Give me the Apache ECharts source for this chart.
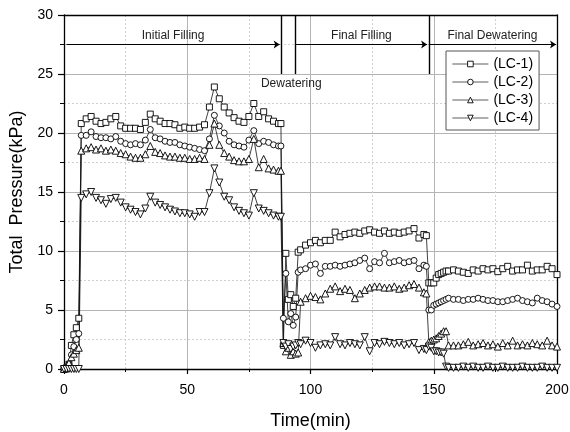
<!DOCTYPE html>
<html lang="en">
<head>
    <meta charset="UTF-8">
    <title>total pressure</title>
    <style>
        html,
        body {
            margin: 0;
            padding: 0;
            background: #fff;
        }

        #canvas {
            width: 570px;
            height: 432px;
        }
    </style>
</head>
<body>
<div id="canvas"></div>
<script src="https://cdn.jsdelivr.net/npm/echarts@6.0.0/dist/echarts.min.js"></script>
<script>

    // time (min), shared by all four load cells
    const time = [0, 1, 2, 3, 4, 5, 6, 7,
        9, 11, 13, 15, 17, 19, 21, 23, 25, 27, 29, 31, 33, 35, 37, 39, 41, 43, 45, 47,
        49, 51, 53, 55, 57, 59, 61, 63, 65, 67, 69, 71, 73, 75, 77, 79, 81, 83, 85, 87,
        88, 89, 90, 91, 92, 93, 94, 95, 96,
        98, 100, 102, 104, 106, 108, 110, 112, 114, 116, 118, 120, 122, 124, 126, 128,
        130, 132, 134, 136, 138, 140, 142, 144, 146,
        147, 148, 149, 150, 151, 152, 153, 154, 155, 156,
        158, 160, 162, 164, 166, 168, 170, 172, 174, 176, 178, 180, 182, 184, 186, 188,
        190, 192, 194, 196, 198, 200]

    const lc1 = [0, 0.1, 0.4, 2.0, 2.9, 3.5, 4.3, 20.8,
        21.2, 21.4, 21.0, 20.8, 20.9, 21.2, 21.4, 20.6, 20.4, 20.4,
        20.4, 20.3, 20.9, 21.6, 21.2, 21.0, 20.8, 20.8, 20.7, 20.4,
        20.5, 20.4, 20.4, 20.5, 20.7, 22.2, 23.9, 22.9, 22.2, 21.7,
        21.3, 21.0, 20.9, 21.4, 22.5, 21.4, 21.8, 21.2, 21.0, 20.8,
        20.8, 2.0, 9.8, 5.9, 6.3, 5.3, 6.0, 9.9, 10.1,
        10.5, 10.7, 10.9, 10.7, 10.9, 10.9, 11.6, 11.2, 11.4, 11.5, 11.6, 11.5, 11.7,
        11.8, 11.6, 11.5, 11.7, 11.5, 11.6, 11.5, 11.6, 11.7, 11.9, 11.1, 11.4,
        11.3, 7.3, 7.3, 7.3, 7.7, 8.0, 8.1, 8.2, 8.3, 8.3,
        8.4, 8.3, 8.2, 8.1, 8.4, 8.3, 8.5, 8.4, 8.5, 8.25, 8.5, 8.7, 8.3, 8.4, 8.4,
        8.8, 8.3, 8.4, 8.4, 8.7, 8.5, 8.0]

    const lc2 = [0, 0.1, 0.4, 1.2, 1.9, 2.5, 3.0, 19.8,
        19.8, 20.1, 19.7, 19.6, 19.6, 19.5, 19.7, 19.3, 19.1, 19.0,
        19.1, 19.0, 19.4, 20.3, 19.6, 19.5, 19.3, 19.2, 19.2, 19.0,
        18.9, 18.8, 18.7, 18.6, 18.5, 19.5, 21.5, 20.6, 20.0, 19.3,
        19.0, 18.9, 18.8, 19.4, 20.2, 19.1, 19.3, 19.2, 19.0, 18.9,
        18.9, 4.3, 8.1, 4.0, 4.7, 3.7, 4.4, 8.2, 8.4,
        8.5, 8.8, 8.9, 8.1, 8.7, 8.7, 8.8, 8.7, 8.8, 8.9, 9.0, 9.2, 9.4,
        8.5, 9.1, 9.0, 9.8, 9.0, 9.1, 9.2, 9.0, 9.1, 9.2, 8.5, 8.8,
        8.7, 5.0, 5.0, 5.4, 5.5, 5.6, 5.7, 5.8, 5.9, 6.0,
        5.9, 5.9, 5.8, 5.9, 5.9, 6.0, 5.9, 5.8, 5.8, 5.7, 5.7, 5.8, 5.9, 6.0, 5.8,
        5.7, 5.6, 6.0, 5.8, 5.7, 5.5, 5.3]

    const lc3 = [0, 0.1, 0.5, 1.0, 1.3, 1.6, 1.8, 18.5,
        18.7, 18.8, 18.6, 18.7, 18.5, 18.6, 18.5, 18.3, 18.2, 18.0,
        17.9, 17.9, 18.2, 18.9, 18.4, 18.3, 18.1, 18.0, 18.0, 17.9,
        17.9, 17.8, 17.8, 17.9, 17.8, 19.0, 20.8, 19.0, 18.3, 18.0,
        17.7, 17.6, 17.6, 17.8, 19.5, 17.1, 17.8, 17.0, 16.9, 16.8,
        16.8, 2.2, 1.5, 1.8, 1.2, 1.5, 1.3, 1.4, 5.7,
        6.0, 6.2, 6.1, 5.9, 6.4, 6.8, 7.0, 6.6, 6.8, 6.7, 6.0, 6.4, 6.7,
        6.9, 7.0, 7.0, 6.9, 6.9, 7.0, 6.8, 6.9, 7.1, 7.2, 6.9, 6.5,
        6.4, 2.3, 2.4, 2.5, 2.6, 2.8, 3.0, 3.2, 3.2, 2.0,
        2.0, 2.0, 2.1, 2.3, 2.0, 2.1, 2.2, 2.0, 2.1, 1.9, 2.2, 2.0, 2.4, 2.0, 2.1,
        2.0, 2.2, 2.1, 2.0, 2.4, 2.0, 1.9]

    const lc4 = [0, 0, 0, 0, 0, 0, 0, 14.5,
        14.8, 15.0, 14.5, 14.3, 14.0, 14.4, 14.5, 14.1, 13.7, 13.5,
        13.3, 13.1, 13.6, 14.6, 14.1, 13.9, 13.7, 13.5, 13.35, 13.2,
        13.2, 13.1, 12.9, 13.3, 13.3, 14.9, 17.0, 15.8, 14.6, 14.3,
        13.7, 13.4, 13.2, 13.0, 14.9, 13.6, 13.4, 13.2, 13.0, 12.9,
        12.9, 2.2, 1.9, 2.1, 1.7, 1.9, 2.0, 2.2, 2.1,
        2.4, 2.2, 1.8, 2.0, 2.1, 2.0, 2.7, 2.1, 2.0, 2.2, 2.1, 2.0, 2.7,
        1.5, 2.2, 2.1, 2.3, 2.2, 2.1, 2.2, 2.0, 2.1, 2.2, 1.6, 1.7,
        1.6, 1.9, 1.8, 1.5, 1.5, 1.4, 1.4, 1.3, 0.2, 0.1,
        0.1, 0.1, 0.2, 0.1, 0.2, 0.1, 0.1, 0.2, 0.1, 0.1, 0.2, 0.1, 0.1, 0.1, 0.2,
        0.1, 0.1, 0.1, 0.2, 0.1, 0.1, 0.1]

    const names = ['(LC-1)', '(LC-2)', '(LC-3)', '(LC-4)']
    const xTicks = [0, 50, 100, 150, 200]
    const yTicks = [0, 5, 10, 15, 20, 25, 30]

    // stage boundaries and labels (time, min)
    const stageLines = [88, 94, 148]
    const stages = [
        {text: 'Initial Filling', from: 1, to: 87.5},
        {text: 'Final Filling', from: 94, to: 147.3},
        {text: 'Final Dewatering', from: 148, to: 199.6}
    ]
    const dewatering = {text: 'Dewatering', at: [92.2, 24.2]}

    const font = 'Arial, "Liberation Sans", sans-serif'

    function pairs(values) {
        return time.map((t, i) => [t, values[i]])
    }

    function lcSeries(name, values, symbol, size, rotate) {
        return {
            name: name,
            type: 'line',
            data: pairs(values),
            symbol: symbol,
            symbolSize: size,
            symbolRotate: rotate || 0,
            showAllSymbol: true,
            lineStyle: {color: '#111', width: 0.8},
            itemStyle: {color: '#fff', borderColor: '#000', borderWidth: 0.9},
            emphasis: {disabled: true}
        }
    }

    const annotation = {
        name: 'stages',
        type: 'line',
        data: [],
        silent: true,
        markLine: {
            silent: true,
            animation: false,
            data: [
                ...stageLines.map(x => [
                    {coord: [x, 25], symbol: 'none', lineStyle: {width: 1.4}, label: {show: false}},
                    {coord: [x, 30], symbol: 'none'}
                ]),
                ...stages.map(s => [
                    {
                        coord: [s.from, 27.5], symbol: 'none',
                        lineStyle: {width: 1},
                        label: {
                            show: true, formatter: s.text, position: 'insideMiddleTop', distance: 3,
                            color: '#222', fontSize: 12, fontFamily: font
                        }
                    },
                    {coord: [s.to, 27.5], symbol: 'arrow', symbolSize: 6}
                ])
            ],
            lineStyle: {color: '#000', type: 'solid'}
        },
        markPoint: {
            silent: true,
            animation: false,
            symbol: 'circle',
            symbolSize: 0,
            data: [{coord: dewatering.at}],
            label: {
                show: true, position: 'inside', formatter: dewatering.text,
                color: '#222', fontSize: 12, fontFamily: font
            }
        }
    }

    const chart = echarts.init(document.getElementById('canvas'), null, {renderer: 'canvas'})

    chart.setOption({
        animation: false,
        backgroundColor: '#fff',
        textStyle: {fontFamily: font},
        grid: {left: 64, right: 13, top: 15, bottom: 63, containLabel: false, outerBoundsMode: 'none'},
        legend: {
            data: names,
            orient: 'vertical',
            left: 446,
            top: 51,
            width: 95,
            padding: [6, 6, 5, 6],
            itemWidth: 36,
            itemHeight: 7,
            itemGap: 4,
            borderColor: '#555',
            borderWidth: 1,
            backgroundColor: '#fff',
            lineStyle: {width: 0.8, color: '#333'},
            itemStyle: {borderWidth: 0.9},
            textStyle: {color: '#000', fontSize: 14, lineHeight: 14, fontFamily: font},
            selectedMode: false
        },
        xAxis: [{
            type: 'value',
            min: 0,
            max: 200,
            interval: 50,
            offset: 3,
            name: 'Time(min)',
            nameLocation: 'middle',
            nameGap: 40,
            nameTextStyle: {fontSize: 18, color: '#000', fontFamily: font},
            axisLine: {show: true, lineStyle: {color: '#000', width: 1.3}},
            axisTick: {show: true, inside: false, length: 5, lineStyle: {color: '#000', width: 1.2}},
            minorTick: {show: true, splitNumber: 2, length: 3, lineStyle: {color: '#000'}},
            axisLabel: {
                margin: 11, fontSize: 14, color: '#000', fontFamily: font,
                formatter: v => xTicks.includes(v) ? String(v) : ''
            },
            splitLine: {show: true, lineStyle: {color: '#b4b4b4', width: 1}},
            minorSplitLine: {show: true, lineStyle: {color: '#d0d0d0', width: 1, type: [2, 2]}}
        }, {
            type: 'value',
            position: 'top',
            min: 0,
            max: 200,
            axisLine: {show: true, onZero: false, lineStyle: {color: '#000', width: 1.3}},
            axisTick: {show: false},
            axisLabel: {show: false},
            splitLine: {show: false}
        }],
        yAxis: [{
            type: 'value',
            min: 0,
            max: 30,
            interval: 5,
            name: 'Total  Pressure(kPa)',
            nameLocation: 'middle',
            nameRotate: 90,
            nameGap: 37,
            nameTextStyle: {fontSize: 18, color: '#000', fontFamily: font},
            axisLine: {show: true, onZero: false, lineStyle: {color: '#000', width: 1.3}},
            axisTick: {show: true, inside: false, length: 6, lineStyle: {color: '#000', width: 1.2}},
            minorTick: {show: true, splitNumber: 2, length: 4, lineStyle: {color: '#000'}},
            axisLabel: {
                margin: 11, fontSize: 14, color: '#000', fontFamily: font,
                formatter: v => yTicks.includes(v) ? String(v) : ''
            },
            splitLine: {show: true, lineStyle: {color: '#b4b4b4', width: 1}},
            minorSplitLine: {show: true, lineStyle: {color: '#d0d0d0', width: 1, type: [2, 2]}}
        }, {
            type: 'value',
            position: 'right',
            min: 0,
            max: 30,
            axisLine: {show: true, onZero: false, lineStyle: {color: '#000', width: 1.3}},
            axisTick: {show: false},
            axisLabel: {show: false},
            splitLine: {show: false}
        }],
        series: [
            lcSeries(names[0], lc1, 'rect', 6),
            lcSeries(names[1], lc2, 'circle', 6),
            lcSeries(names[2], lc3, 'triangle', 7),
            lcSeries(names[3], lc4, 'triangle', 7, 180),
            annotation
        ]
    })
</script>
</body>
</html>
